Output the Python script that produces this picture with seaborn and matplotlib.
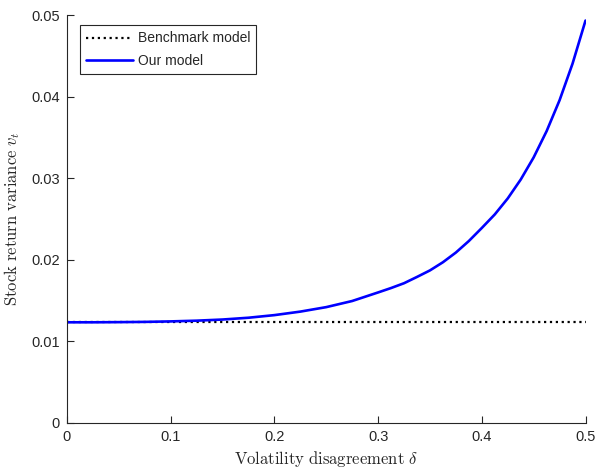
import numpy as np
import pandas as pd
import matplotlib
matplotlib.use('Agg')
import matplotlib.pyplot as plt
import seaborn as sns

# volatility disagreement grid and stock return variance
delta = [0, 0.025, 0.05, 0.075, 0.1, 0.125, 0.15, 0.175, 0.2, 0.225, 0.25,
         0.275, 0.3, 0.3125, 0.325, 0.3375, 0.35, 0.3625, 0.375, 0.3875,
         0.4, 0.4125, 0.425, 0.4375, 0.45, 0.4625, 0.475, 0.4875, 0.5]
our_model = [0.01234, 0.01234, 0.01236, 0.01239, 0.01245, 0.01254, 0.01268,
             0.01290, 0.01322, 0.01365, 0.01420, 0.01495, 0.01600, 0.01654,
             0.01713, 0.01790, 0.01870, 0.01970, 0.02089, 0.02230, 0.02390,
             0.02556, 0.02752, 0.02983, 0.03255, 0.03577, 0.03956, 0.04404,
             0.04932]
benchmark = [0.01234] * len(delta)

x_ticks = [0, 0.1, 0.2, 0.3, 0.4, 0.5]
y_ticks = [0, 0.01, 0.02, 0.03, 0.04, 0.05]


def style_axes(ax):
    '''
    MATLAB-like look: left/bottom spines only, ticks pointing in
    '''
    sns.despine(ax=ax)
    for side in ['left', 'bottom']:
        ax.spines[side].set_linewidth(0.8)
        ax.spines[side].set_color('#262626')
    ax.tick_params(direction='in', length=5, width=0.8, color='#262626',
                   labelsize=10.5, labelcolor='#262626', pad=5)


if __name__ == "__main__":
    sns.set_style('ticks')
    plt.rcParams['font.family'] = ['Liberation Sans', 'DejaVu Sans']
    plt.rcParams['mathtext.fontset'] = 'cm'

    df = pd.DataFrame({'delta': delta + delta,
                       'variance': benchmark + our_model,
                       'model': ['Benchmark model'] * len(delta) + ['Our model'] * len(delta)})

    fig = plt.figure(figsize=(5.96, 4.69), dpi=100)
    ax = fig.add_axes([0.1124, 0.0981, 0.8700, 0.8699])

    sns.lineplot(data=df[df.model == 'Benchmark model'], x='delta', y='variance',
                 color='black', linestyle=':', linewidth=1.6, ax=ax,
                 label='Benchmark model')
    sns.lineplot(data=df[df.model == 'Our model'], x='delta', y='variance',
                 color='#0000ff', linewidth=1.9, ax=ax, label='Our model')

    ax.set_xlim(0, 0.5)
    ax.set_ylim(0, 0.05)
    ax.set_xticks(x_ticks)
    ax.set_xticklabels(['0', '0.1', '0.2', '0.3', '0.4', '0.5'])
    ax.set_yticks(y_ticks)
    ax.set_yticklabels(['0', '0.01', '0.02', '0.03', '0.04', '0.05'])
    ax.set_xlabel(r'$\mathrm{Volatility\ disagreement}\ \delta$', fontsize=12, labelpad=4)
    ax.set_ylabel(r'$\mathrm{Stock\ return\ variance}\ v_t$', fontsize=12, labelpad=7)
    style_axes(ax)

    leg = ax.legend(loc='upper left', bbox_to_anchor=(0.025, 0.975), fontsize=10,
                    frameon=True, fancybox=False, framealpha=1, edgecolor='#262626',
                    handlelength=3.4, handletextpad=0.3, borderpad=0.45,
                    labelspacing=0.6, borderaxespad=0)
    leg.get_frame().set_linewidth(0.8)

    fig.savefig('out.png', dpi=100)
